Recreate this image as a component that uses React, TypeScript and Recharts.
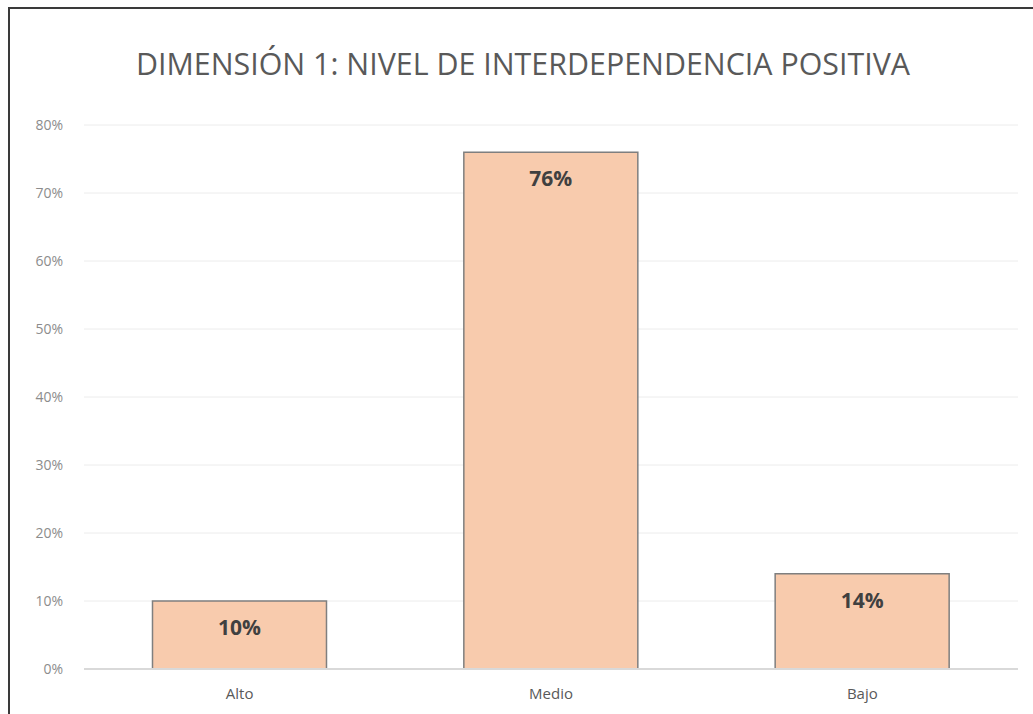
import { Bar, BarChart, CartesianGrid, LabelList, XAxis, YAxis } from 'recharts';

const categories = ['Alto', 'Medio', 'Bajo'];
const values = [0.1, 0.76, 0.14];
const yTicks = [0, 0.1, 0.2, 0.3, 0.4, 0.5, 0.6, 0.7, 0.8];

const title = 'DIMENSIÓN 1: NIVEL DE INTERDEPENDENCIA POSITIVA';

const pct = (v: number) => `${Math.round(v * 100)}%`;

export default function App() {
  const data = categories.map((name, i) => ({ name, value: values[i] }));

  return (
    <div
      style={{
        position: 'fixed',
        left: 8,
        top: 7,
        right: 0,
        bottom: 0,
        borderLeft: '2px solid #3a3a3a',
        borderTop: '2px solid #3a3a3a',
        background: '#fff',
        overflow: 'hidden',
        fontFamily: '"Open Sans", sans-serif',
      }}
    >
      <BarChart
        width={1023}
        height={705}
        data={data}
        margin={{ top: 116, right: 15, bottom: 5, left: 10 }}
        barCategoryGap="22%"
      >
        <text
          x={513}
          y={66}
          textAnchor="middle"
          fontSize={31}
          fill="#595959"
          textLength={774}
          lengthAdjust="spacingAndGlyphs"
        >
          {title}
        </text>
        <CartesianGrid vertical={false} stroke="#ececec" />
        <XAxis
          dataKey="name"
          height={40}
          tickLine={false}
          tickSize={0}
          tickMargin={19}
          axisLine={{ stroke: '#d9d9d9', strokeWidth: 2 }}
          tick={{ fontSize: 15, fill: '#595959' }}
        />
        <YAxis
          width={64}
          domain={[0, 0.8]}
          ticks={yTicks}
          tickFormatter={pct}
          axisLine={false}
          tickLine={false}
          tickSize={0}
          tickMargin={21}
          tick={{ fontSize: 14, fill: '#8c8c8c' }}
        />
        <Bar
          dataKey="value"
          fill="#f8cbad"
          stroke="#7f7f7f"
          strokeWidth={1.5}
          isAnimationActive={false}
        >
          <LabelList
            dataKey="value"
            position="insideTop"
            offset={19}
            formatter={(v: any) => pct(Number(v))}
            style={{ fontSize: 21, fontWeight: 700, fill: '#404040' }}
          />
        </Bar>
      </BarChart>
    </div>
  );
}
